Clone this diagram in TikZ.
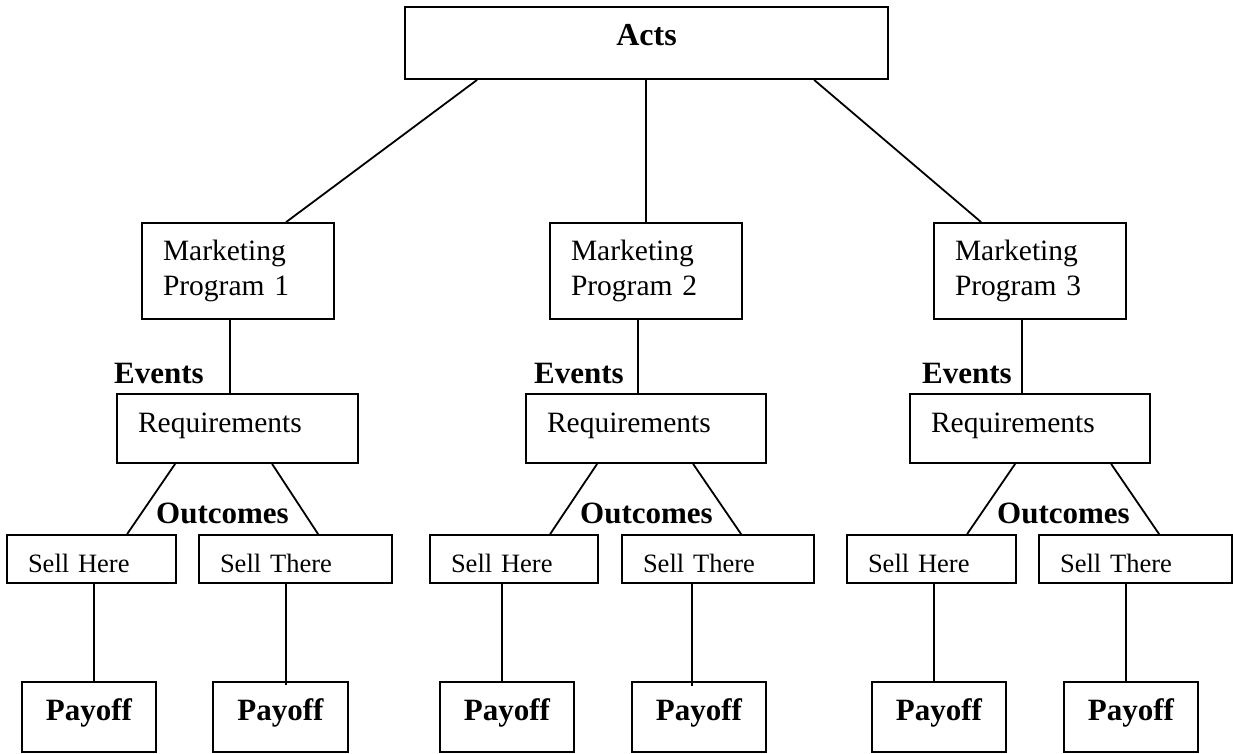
\documentclass[tikz,border=0pt]{standalone}
\usepackage{fontspec}
\setmainfont{Liberation Serif}
\begin{document}
\begin{tikzpicture}[x=1pt,y=-1pt,
  box/.style={draw, line width=1.8pt, inner xsep=21pt, inner ysep=0pt, align=left},
  mpbox/.style={box, minimum height=96pt, font=\fontsize{29.5}{35}\selectfont},
  reqbox/.style={box, minimum height=69pt, text height=20pt, text depth=13pt, font=\fontsize{29.5}{35}\selectfont},
  sellbox/.style={box, minimum height=48pt, text height=26pt, text depth=0pt, font=\fontsize{26.5}{32}\selectfont},
  paybox/.style={draw, line width=1.8pt, inner sep=0pt, align=center, minimum width=134pt, minimum height=70pt, text height=21pt, text depth=15pt, font=\fontsize{31}{36}\selectfont\bfseries},
  lbl/.style={anchor=base west, inner sep=0pt, font=\fontsize{31}{36}\selectfont\bfseries},
  conn/.style={line width=1.8pt}
]
\useasboundingbox (0,0) rectangle (1233,754);
% top
\node[draw, line width=1.8pt, inner sep=0pt, minimum width=483pt, minimum height=72pt, text height=22pt, text depth=17pt, font=\fontsize{32}{37}\selectfont\bfseries] (acts) at (646.5,43) {Acts};
% marketing programs
\node[mpbox, minimum width=192pt, text width=150pt] (mp1) at (238,271) {Marketing\\Program 1};
\node[mpbox, minimum width=192pt, text width=150pt] (mp2) at (646,271) {Marketing\\Program 2};
\node[mpbox, minimum width=192pt, text width=150pt] (mp3) at (1030,271) {Marketing\\Program 3};
% requirements
\node[reqbox, minimum width=241pt, text width=199pt] (req1) at (237.5,428.5) {Requirements};
\node[reqbox, minimum width=240pt, text width=198pt] (req2) at (646,428.5) {Requirements};
\node[reqbox, minimum width=240pt, text width=198pt] (req3) at (1030,428.5) {Requirements};
% sell boxes
\node[sellbox, minimum width=169pt, text width=127pt] (sh1) at (91.5,559) {Sell Here};
\node[sellbox, minimum width=193pt, text width=151pt] (st1) at (295.5,559) {Sell There};
\node[sellbox, minimum width=168pt, text width=126pt] (sh2) at (514,559) {Sell Here};
\node[sellbox, minimum width=192pt, text width=150pt] (st2) at (718,559) {Sell There};
\node[sellbox, minimum width=169pt, text width=127pt] (sh3) at (931.5,559) {Sell Here};
\node[sellbox, minimum width=193pt, text width=151pt] (st3) at (1135.5,559) {Sell There};
% payoffs
\node[paybox] (pay1) at (89,717) {Payoff};
\node[paybox, minimum width=135pt] (pay2) at (280.5,717) {Payoff};
\node[paybox] (pay3) at (507,717) {Payoff};
\node[paybox] (pay4) at (699,717) {Payoff};
\node[paybox] (pay5) at (939,717) {Payoff};
\node[paybox] (pay6) at (1131,717) {Payoff};
% labels
\node[lbl] (ev1) at (114,383) {Events};
\node[lbl] (ev2) at (534,383) {Events};
\node[lbl] (ev3) at (922,383) {Events};
\node[lbl] (oc1) at (156,523) {Outcomes};
\node[lbl] (oc2) at (580,523) {Outcomes};
\node[lbl] (oc3) at (997,523) {Outcomes};
% connectors from acts
\draw[conn] ([xshift=73pt]acts.south west) -- ([xshift=145pt]mp1.north west);
\draw[conn] (mp2.north |- acts.south) -- (mp2.north);
\draw[conn] ([xshift=410pt]acts.south west) -- ([xshift=48pt]mp3.north west);
% programs to requirements
\coordinate (m1b) at ([xshift=-8pt]mp1.south);
\coordinate (m2b) at ([xshift=-8pt]mp2.south);
\coordinate (m3b) at ([xshift=-8pt]mp3.south);
\draw[conn] (m1b) -- (m1b |- req1.north);
\draw[conn] (m2b) -- (m2b |- req2.north);
\draw[conn] (m3b) -- (m3b |- req3.north);
% requirements to sell boxes
\draw[conn] ([xshift=59pt]req1.south west) -- ([xshift=121pt]sh1.north west);
\draw[conn] ([xshift=156pt]req1.south west) -- ([xshift=120pt]st1.north west);
\draw[conn] ([xshift=72pt]req2.south west) -- ([xshift=121pt]sh2.north west);
\draw[conn] ([xshift=168pt]req2.south west) -- ([xshift=120pt]st2.north west);
\draw[conn] ([xshift=106pt]req3.south west) -- ([xshift=121pt]sh3.north west);
\draw[conn] ([xshift=202pt]req3.south west) -- ([xshift=121pt]st3.north west);
% sell boxes to payoffs
\coordinate (p1t) at ([xshift=5pt]pay1.north);
\coordinate (p2t) at ([xshift=5.5pt]pay2.north);
\coordinate (p3t) at ([xshift=-5pt]pay3.north);
\coordinate (p4t) at ([xshift=-7pt]pay4.north);
\coordinate (p5t) at ([xshift=-5pt]pay5.north);
\coordinate (p6t) at ([xshift=-5pt]pay6.north);
\draw[conn] (p1t |- sh1.south) -- ([yshift=-2pt]p1t);
\draw[conn] (p2t |- st1.south) -- ([yshift=-4pt]p2t);
\draw[conn] (p3t |- sh2.south) -- ([yshift=-2pt]p3t);
\draw[conn] (p4t |- st2.south) -- ([yshift=-5pt]p4t);
\draw[conn] (p5t |- sh3.south) -- ([yshift=-2pt]p5t);
\draw[conn] (p6t |- st3.south) -- ([yshift=-2pt]p6t);
\end{tikzpicture}
\end{document}
